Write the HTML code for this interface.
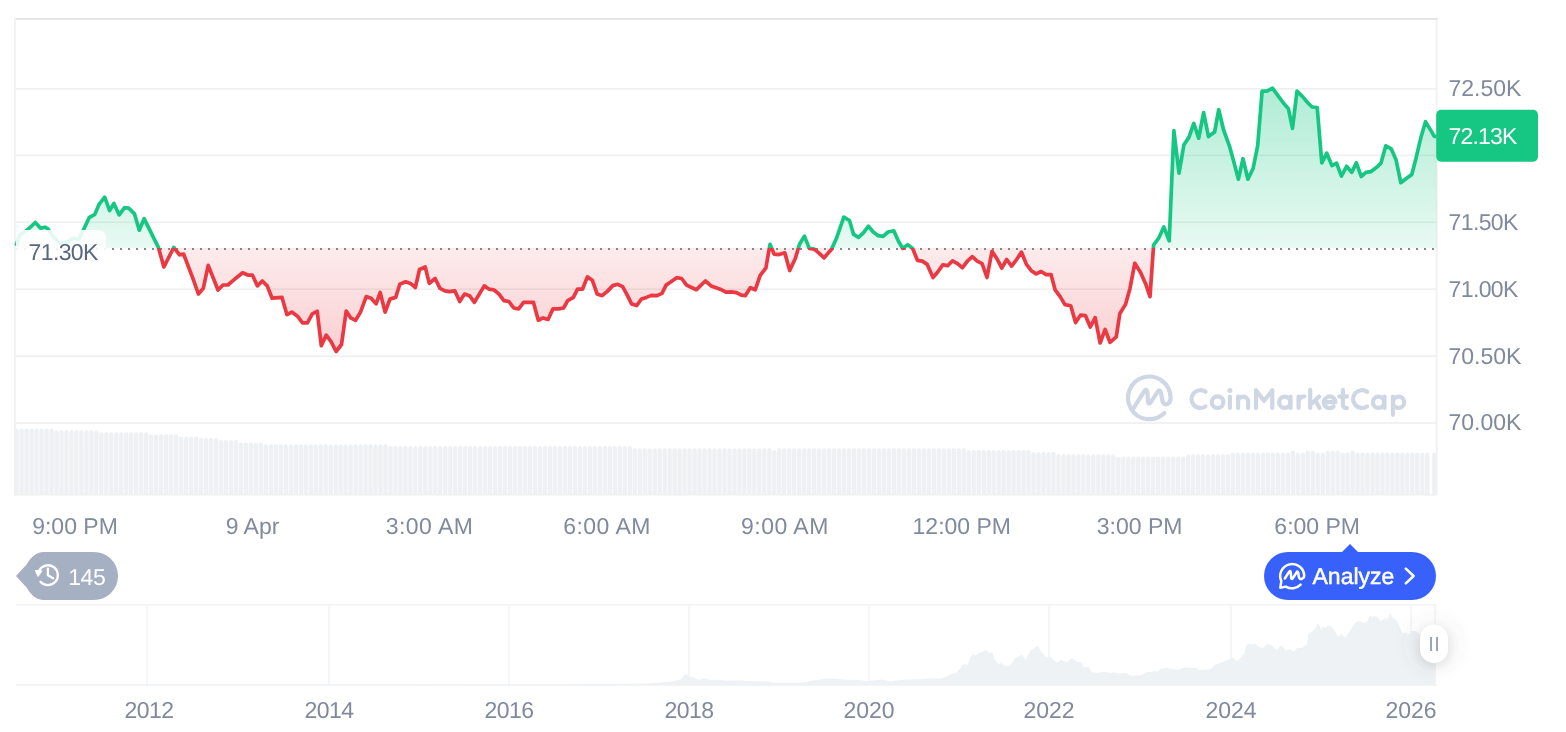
<!DOCTYPE html>
<html><head><meta charset="utf-8">
<style>
html,body{margin:0;padding:0;background:#fff;}
body{width:1566px;height:732px;overflow:hidden;position:relative;font-family:"Liberation Sans",sans-serif;}
svg{position:absolute;left:0;top:0;}
text{text-rendering:geometricPrecision;}
text{font-family:"Liberation Sans",sans-serif;}
</style></head><body>
<svg style="will-change:transform" width="1566" height="732" viewBox="0 0 1566 732">
<defs>
  <linearGradient id="gG" gradientUnits="userSpaceOnUse" x1="0" y1="88" x2="0" y2="248.0">
    <stop offset="0" stop-color="#16c784" stop-opacity="0.34"/>
    <stop offset="1" stop-color="#16c784" stop-opacity="0.1"/>
  </linearGradient>
  <linearGradient id="gR" gradientUnits="userSpaceOnUse" x1="0" y1="248.0" x2="0" y2="352">
    <stop offset="0" stop-color="#ea3943" stop-opacity="0.1"/>
    <stop offset="1" stop-color="#ea3943" stop-opacity="0.24"/>
  </linearGradient>
  <clipPath id="cTop"><rect x="0" y="0" width="1437" height="248.0"/></clipPath>
  <clipPath id="cBot"><rect x="0" y="248.0" width="1437" height="300"/></clipPath>
</defs>
<!-- grid & borders -->
<g fill="#efefef">
  <rect x="16" y="88" width="1420" height="1.6"/>
  <rect x="16" y="154.6" width="1420" height="1.6"/>
  <rect x="16" y="221.5" width="1420" height="1.6"/>
  <rect x="16" y="288.4" width="1420" height="1.6"/>
  <rect x="16" y="355.3" width="1420" height="1.6"/>
  <rect x="16" y="422.2" width="1420" height="1.6"/>
</g>
<!-- volume -->
<g fill="#eef0f3">
<path d="M14.40,494.5V430.6a2.2,2.2 0 0 1 4.4,0V494.5zM19.39,494.5V430.6a2.2,2.2 0 0 1 4.4,0V494.5zM24.37,494.5V430.6a2.2,2.2 0 0 1 4.4,0V494.5zM29.36,494.5V430.6a2.2,2.2 0 0 1 4.4,0V494.5zM34.34,494.5V430.6a2.2,2.2 0 0 1 4.4,0V494.5zM39.33,494.5V430.6a2.2,2.2 0 0 1 4.4,0V494.5zM44.31,494.5V430.6a2.2,2.2 0 0 1 4.4,0V494.5zM49.30,494.5V430.6a2.2,2.2 0 0 1 4.4,0V494.5zM54.28,494.5V432.5a2.2,2.2 0 0 1 4.4,0V494.5zM59.27,494.5V432.5a2.2,2.2 0 0 1 4.4,0V494.5zM64.25,494.5V432.5a2.2,2.2 0 0 1 4.4,0V494.5zM69.23,494.5V432.5a2.2,2.2 0 0 1 4.4,0V494.5zM74.22,494.5V432.5a2.2,2.2 0 0 1 4.4,0V494.5zM79.20,494.5V432.5a2.2,2.2 0 0 1 4.4,0V494.5zM84.19,494.5V432.5a2.2,2.2 0 0 1 4.4,0V494.5zM89.17,494.5V432.5a2.2,2.2 0 0 1 4.4,0V494.5zM94.16,494.5V432.5a2.2,2.2 0 0 1 4.4,0V494.5zM99.14,494.5V434.4a2.2,2.2 0 0 1 4.4,0V494.5zM104.13,494.5V434.4a2.2,2.2 0 0 1 4.4,0V494.5zM109.11,494.5V434.4a2.2,2.2 0 0 1 4.4,0V494.5zM114.10,494.5V434.4a2.2,2.2 0 0 1 4.4,0V494.5zM119.08,494.5V434.4a2.2,2.2 0 0 1 4.4,0V494.5zM124.07,494.5V434.4a2.2,2.2 0 0 1 4.4,0V494.5zM129.06,494.5V434.4a2.2,2.2 0 0 1 4.4,0V494.5zM134.04,494.5V434.4a2.2,2.2 0 0 1 4.4,0V494.5zM139.03,494.5V434.4a2.2,2.2 0 0 1 4.4,0V494.5zM144.01,494.5V434.4a2.2,2.2 0 0 1 4.4,0V494.5zM149.00,494.5V436.4a2.2,2.2 0 0 1 4.4,0V494.5zM153.98,494.5V436.4a2.2,2.2 0 0 1 4.4,0V494.5zM158.97,494.5V436.4a2.2,2.2 0 0 1 4.4,0V494.5zM163.95,494.5V436.4a2.2,2.2 0 0 1 4.4,0V494.5zM168.94,494.5V436.4a2.2,2.2 0 0 1 4.4,0V494.5zM173.92,494.5V436.4a2.2,2.2 0 0 1 4.4,0V494.5zM178.91,494.5V438.7a2.2,2.2 0 0 1 4.4,0V494.5zM183.89,494.5V438.7a2.2,2.2 0 0 1 4.4,0V494.5zM188.88,494.5V438.7a2.2,2.2 0 0 1 4.4,0V494.5zM193.86,494.5V438.7a2.2,2.2 0 0 1 4.4,0V494.5zM198.85,494.5V440.2a2.2,2.2 0 0 1 4.4,0V494.5zM203.83,494.5V440.2a2.2,2.2 0 0 1 4.4,0V494.5zM208.82,494.5V440.2a2.2,2.2 0 0 1 4.4,0V494.5zM213.80,494.5V440.2a2.2,2.2 0 0 1 4.4,0V494.5zM218.79,494.5V442.2a2.2,2.2 0 0 1 4.4,0V494.5zM223.77,494.5V442.2a2.2,2.2 0 0 1 4.4,0V494.5zM228.76,494.5V442.2a2.2,2.2 0 0 1 4.4,0V494.5zM233.74,494.5V442.2a2.2,2.2 0 0 1 4.4,0V494.5zM238.73,494.5V444.6a2.2,2.2 0 0 1 4.4,0V494.5zM243.71,494.5V444.6a2.2,2.2 0 0 1 4.4,0V494.5zM248.70,494.5V444.6a2.2,2.2 0 0 1 4.4,0V494.5zM253.68,494.5V444.6a2.2,2.2 0 0 1 4.4,0V494.5zM258.67,494.5V444.6a2.2,2.2 0 0 1 4.4,0V494.5zM263.65,494.5V446.4a2.2,2.2 0 0 1 4.4,0V494.5zM268.64,494.5V446.4a2.2,2.2 0 0 1 4.4,0V494.5zM273.62,494.5V446.4a2.2,2.2 0 0 1 4.4,0V494.5zM278.61,494.5V446.4a2.2,2.2 0 0 1 4.4,0V494.5zM283.59,494.5V446.4a2.2,2.2 0 0 1 4.4,0V494.5zM288.58,494.5V446.4a2.2,2.2 0 0 1 4.4,0V494.5zM293.56,494.5V446.4a2.2,2.2 0 0 1 4.4,0V494.5zM298.55,494.5V446.4a2.2,2.2 0 0 1 4.4,0V494.5zM303.53,494.5V446.4a2.2,2.2 0 0 1 4.4,0V494.5zM308.52,494.5V446.4a2.2,2.2 0 0 1 4.4,0V494.5zM313.50,494.5V446.4a2.2,2.2 0 0 1 4.4,0V494.5zM318.49,494.5V446.4a2.2,2.2 0 0 1 4.4,0V494.5zM323.47,494.5V446.4a2.2,2.2 0 0 1 4.4,0V494.5zM328.46,494.5V446.4a2.2,2.2 0 0 1 4.4,0V494.5zM333.44,494.5V446.4a2.2,2.2 0 0 1 4.4,0V494.5zM338.43,494.5V446.4a2.2,2.2 0 0 1 4.4,0V494.5zM343.41,494.5V446.4a2.2,2.2 0 0 1 4.4,0V494.5zM348.40,494.5V446.4a2.2,2.2 0 0 1 4.4,0V494.5zM353.38,494.5V446.4a2.2,2.2 0 0 1 4.4,0V494.5zM358.37,494.5V446.4a2.2,2.2 0 0 1 4.4,0V494.5zM363.35,494.5V446.4a2.2,2.2 0 0 1 4.4,0V494.5zM368.34,494.5V446.4a2.2,2.2 0 0 1 4.4,0V494.5zM373.32,494.5V446.4a2.2,2.2 0 0 1 4.4,0V494.5zM378.31,494.5V446.4a2.2,2.2 0 0 1 4.4,0V494.5zM383.29,494.5V446.4a2.2,2.2 0 0 1 4.4,0V494.5zM388.28,494.5V448.2a2.2,2.2 0 0 1 4.4,0V494.5zM393.26,494.5V448.2a2.2,2.2 0 0 1 4.4,0V494.5zM398.25,494.5V448.2a2.2,2.2 0 0 1 4.4,0V494.5zM403.23,494.5V448.2a2.2,2.2 0 0 1 4.4,0V494.5zM408.22,494.5V448.2a2.2,2.2 0 0 1 4.4,0V494.5zM413.20,494.5V448.2a2.2,2.2 0 0 1 4.4,0V494.5zM418.19,494.5V448.2a2.2,2.2 0 0 1 4.4,0V494.5zM423.17,494.5V448.2a2.2,2.2 0 0 1 4.4,0V494.5zM428.16,494.5V448.2a2.2,2.2 0 0 1 4.4,0V494.5zM433.14,494.5V448.2a2.2,2.2 0 0 1 4.4,0V494.5zM438.13,494.5V448.2a2.2,2.2 0 0 1 4.4,0V494.5zM443.11,494.5V448.2a2.2,2.2 0 0 1 4.4,0V494.5zM448.10,494.5V448.2a2.2,2.2 0 0 1 4.4,0V494.5zM453.08,494.5V448.2a2.2,2.2 0 0 1 4.4,0V494.5zM458.07,494.5V448.2a2.2,2.2 0 0 1 4.4,0V494.5zM463.05,494.5V448.2a2.2,2.2 0 0 1 4.4,0V494.5zM468.04,494.5V448.2a2.2,2.2 0 0 1 4.4,0V494.5zM473.02,494.5V448.2a2.2,2.2 0 0 1 4.4,0V494.5zM478.01,494.5V448.2a2.2,2.2 0 0 1 4.4,0V494.5zM482.99,494.5V448.2a2.2,2.2 0 0 1 4.4,0V494.5zM487.98,494.5V448.2a2.2,2.2 0 0 1 4.4,0V494.5zM492.96,494.5V448.2a2.2,2.2 0 0 1 4.4,0V494.5zM497.95,494.5V448.2a2.2,2.2 0 0 1 4.4,0V494.5zM502.93,494.5V448.2a2.2,2.2 0 0 1 4.4,0V494.5zM507.92,494.5V448.2a2.2,2.2 0 0 1 4.4,0V494.5zM512.90,494.5V448.2a2.2,2.2 0 0 1 4.4,0V494.5zM517.89,494.5V448.2a2.2,2.2 0 0 1 4.4,0V494.5zM522.87,494.5V448.2a2.2,2.2 0 0 1 4.4,0V494.5zM527.86,494.5V448.2a2.2,2.2 0 0 1 4.4,0V494.5zM532.84,494.5V448.2a2.2,2.2 0 0 1 4.4,0V494.5zM537.83,494.5V448.2a2.2,2.2 0 0 1 4.4,0V494.5zM542.81,494.5V448.2a2.2,2.2 0 0 1 4.4,0V494.5zM547.80,494.5V448.2a2.2,2.2 0 0 1 4.4,0V494.5zM552.78,494.5V448.2a2.2,2.2 0 0 1 4.4,0V494.5zM557.77,494.5V448.2a2.2,2.2 0 0 1 4.4,0V494.5zM562.75,494.5V448.2a2.2,2.2 0 0 1 4.4,0V494.5zM567.74,494.5V448.2a2.2,2.2 0 0 1 4.4,0V494.5zM572.72,494.5V448.2a2.2,2.2 0 0 1 4.4,0V494.5zM577.71,494.5V448.2a2.2,2.2 0 0 1 4.4,0V494.5zM582.69,494.5V448.2a2.2,2.2 0 0 1 4.4,0V494.5zM587.68,494.5V448.2a2.2,2.2 0 0 1 4.4,0V494.5zM592.66,494.5V448.2a2.2,2.2 0 0 1 4.4,0V494.5zM597.65,494.5V448.2a2.2,2.2 0 0 1 4.4,0V494.5zM602.63,494.5V448.2a2.2,2.2 0 0 1 4.4,0V494.5zM607.62,494.5V448.2a2.2,2.2 0 0 1 4.4,0V494.5zM612.60,494.5V448.2a2.2,2.2 0 0 1 4.4,0V494.5zM617.59,494.5V448.2a2.2,2.2 0 0 1 4.4,0V494.5zM622.57,494.5V448.2a2.2,2.2 0 0 1 4.4,0V494.5zM627.56,494.5V448.2a2.2,2.2 0 0 1 4.4,0V494.5zM632.54,494.5V450.4a2.2,2.2 0 0 1 4.4,0V494.5zM637.53,494.5V450.4a2.2,2.2 0 0 1 4.4,0V494.5zM642.51,494.5V450.4a2.2,2.2 0 0 1 4.4,0V494.5zM647.50,494.5V450.4a2.2,2.2 0 0 1 4.4,0V494.5zM652.48,494.5V450.4a2.2,2.2 0 0 1 4.4,0V494.5zM657.47,494.5V450.4a2.2,2.2 0 0 1 4.4,0V494.5zM662.45,494.5V450.4a2.2,2.2 0 0 1 4.4,0V494.5zM667.44,494.5V450.4a2.2,2.2 0 0 1 4.4,0V494.5zM672.42,494.5V450.4a2.2,2.2 0 0 1 4.4,0V494.5zM677.41,494.5V450.4a2.2,2.2 0 0 1 4.4,0V494.5zM682.39,494.5V450.4a2.2,2.2 0 0 1 4.4,0V494.5zM687.38,494.5V450.4a2.2,2.2 0 0 1 4.4,0V494.5zM692.36,494.5V450.4a2.2,2.2 0 0 1 4.4,0V494.5zM697.35,494.5V450.4a2.2,2.2 0 0 1 4.4,0V494.5zM702.33,494.5V450.4a2.2,2.2 0 0 1 4.4,0V494.5zM707.32,494.5V450.4a2.2,2.2 0 0 1 4.4,0V494.5zM712.30,494.5V450.4a2.2,2.2 0 0 1 4.4,0V494.5zM717.29,494.5V450.4a2.2,2.2 0 0 1 4.4,0V494.5zM722.27,494.5V450.4a2.2,2.2 0 0 1 4.4,0V494.5zM727.26,494.5V450.4a2.2,2.2 0 0 1 4.4,0V494.5zM732.24,494.5V450.4a2.2,2.2 0 0 1 4.4,0V494.5zM737.23,494.5V450.4a2.2,2.2 0 0 1 4.4,0V494.5zM742.21,494.5V450.4a2.2,2.2 0 0 1 4.4,0V494.5zM747.20,494.5V450.4a2.2,2.2 0 0 1 4.4,0V494.5zM752.18,494.5V450.4a2.2,2.2 0 0 1 4.4,0V494.5zM757.17,494.5V450.4a2.2,2.2 0 0 1 4.4,0V494.5zM762.15,494.5V450.4a2.2,2.2 0 0 1 4.4,0V494.5zM767.14,494.5V450.4a2.2,2.2 0 0 1 4.4,0V494.5zM772.12,494.5V452.2a2.2,2.2 0 0 1 4.4,0V494.5zM777.11,494.5V450.4a2.2,2.2 0 0 1 4.4,0V494.5zM782.09,494.5V450.4a2.2,2.2 0 0 1 4.4,0V494.5zM787.08,494.5V450.4a2.2,2.2 0 0 1 4.4,0V494.5zM792.06,494.5V450.4a2.2,2.2 0 0 1 4.4,0V494.5zM797.05,494.5V450.4a2.2,2.2 0 0 1 4.4,0V494.5zM802.03,494.5V450.4a2.2,2.2 0 0 1 4.4,0V494.5zM807.02,494.5V450.4a2.2,2.2 0 0 1 4.4,0V494.5zM812.00,494.5V450.4a2.2,2.2 0 0 1 4.4,0V494.5zM816.99,494.5V450.4a2.2,2.2 0 0 1 4.4,0V494.5zM821.97,494.5V450.4a2.2,2.2 0 0 1 4.4,0V494.5zM826.96,494.5V450.4a2.2,2.2 0 0 1 4.4,0V494.5zM831.94,494.5V450.4a2.2,2.2 0 0 1 4.4,0V494.5zM836.93,494.5V450.4a2.2,2.2 0 0 1 4.4,0V494.5zM841.91,494.5V450.4a2.2,2.2 0 0 1 4.4,0V494.5zM846.90,494.5V450.4a2.2,2.2 0 0 1 4.4,0V494.5zM851.88,494.5V450.4a2.2,2.2 0 0 1 4.4,0V494.5zM856.87,494.5V450.4a2.2,2.2 0 0 1 4.4,0V494.5zM861.85,494.5V450.4a2.2,2.2 0 0 1 4.4,0V494.5zM866.84,494.5V450.4a2.2,2.2 0 0 1 4.4,0V494.5zM871.82,494.5V450.4a2.2,2.2 0 0 1 4.4,0V494.5zM876.81,494.5V450.4a2.2,2.2 0 0 1 4.4,0V494.5zM881.79,494.5V450.4a2.2,2.2 0 0 1 4.4,0V494.5zM886.78,494.5V450.4a2.2,2.2 0 0 1 4.4,0V494.5zM891.76,494.5V450.4a2.2,2.2 0 0 1 4.4,0V494.5zM896.75,494.5V450.4a2.2,2.2 0 0 1 4.4,0V494.5zM901.73,494.5V450.4a2.2,2.2 0 0 1 4.4,0V494.5zM906.72,494.5V450.4a2.2,2.2 0 0 1 4.4,0V494.5zM911.70,494.5V450.4a2.2,2.2 0 0 1 4.4,0V494.5zM916.69,494.5V450.4a2.2,2.2 0 0 1 4.4,0V494.5zM921.67,494.5V450.4a2.2,2.2 0 0 1 4.4,0V494.5zM926.66,494.5V450.4a2.2,2.2 0 0 1 4.4,0V494.5zM931.64,494.5V450.4a2.2,2.2 0 0 1 4.4,0V494.5zM936.63,494.5V450.4a2.2,2.2 0 0 1 4.4,0V494.5zM941.61,494.5V450.4a2.2,2.2 0 0 1 4.4,0V494.5zM946.60,494.5V450.4a2.2,2.2 0 0 1 4.4,0V494.5zM951.58,494.5V450.4a2.2,2.2 0 0 1 4.4,0V494.5zM956.57,494.5V450.4a2.2,2.2 0 0 1 4.4,0V494.5zM961.55,494.5V450.4a2.2,2.2 0 0 1 4.4,0V494.5zM966.54,494.5V452.2a2.2,2.2 0 0 1 4.4,0V494.5zM971.52,494.5V452.2a2.2,2.2 0 0 1 4.4,0V494.5zM976.51,494.5V452.2a2.2,2.2 0 0 1 4.4,0V494.5zM981.49,494.5V452.2a2.2,2.2 0 0 1 4.4,0V494.5zM986.48,494.5V452.2a2.2,2.2 0 0 1 4.4,0V494.5zM991.46,494.5V452.2a2.2,2.2 0 0 1 4.4,0V494.5zM996.45,494.5V452.2a2.2,2.2 0 0 1 4.4,0V494.5zM1001.43,494.5V452.2a2.2,2.2 0 0 1 4.4,0V494.5zM1006.42,494.5V452.2a2.2,2.2 0 0 1 4.4,0V494.5zM1011.40,494.5V452.2a2.2,2.2 0 0 1 4.4,0V494.5zM1016.39,494.5V452.2a2.2,2.2 0 0 1 4.4,0V494.5zM1021.37,494.5V452.2a2.2,2.2 0 0 1 4.4,0V494.5zM1026.36,494.5V452.2a2.2,2.2 0 0 1 4.4,0V494.5zM1031.34,494.5V454.2a2.2,2.2 0 0 1 4.4,0V494.5zM1036.33,494.5V454.2a2.2,2.2 0 0 1 4.4,0V494.5zM1041.31,494.5V454.2a2.2,2.2 0 0 1 4.4,0V494.5zM1046.30,494.5V454.2a2.2,2.2 0 0 1 4.4,0V494.5zM1051.28,494.5V454.2a2.2,2.2 0 0 1 4.4,0V494.5zM1056.27,494.5V456.5a2.2,2.2 0 0 1 4.4,0V494.5zM1061.25,494.5V456.5a2.2,2.2 0 0 1 4.4,0V494.5zM1066.24,494.5V456.5a2.2,2.2 0 0 1 4.4,0V494.5zM1071.22,494.5V456.5a2.2,2.2 0 0 1 4.4,0V494.5zM1076.21,494.5V456.5a2.2,2.2 0 0 1 4.4,0V494.5zM1081.19,494.5V456.5a2.2,2.2 0 0 1 4.4,0V494.5zM1086.18,494.5V456.5a2.2,2.2 0 0 1 4.4,0V494.5zM1091.16,494.5V456.5a2.2,2.2 0 0 1 4.4,0V494.5zM1096.15,494.5V456.5a2.2,2.2 0 0 1 4.4,0V494.5zM1101.13,494.5V456.5a2.2,2.2 0 0 1 4.4,0V494.5zM1106.12,494.5V456.5a2.2,2.2 0 0 1 4.4,0V494.5zM1111.10,494.5V456.5a2.2,2.2 0 0 1 4.4,0V494.5zM1116.09,494.5V458.7a2.2,2.2 0 0 1 4.4,0V494.5zM1121.07,494.5V458.7a2.2,2.2 0 0 1 4.4,0V494.5zM1126.06,494.5V458.7a2.2,2.2 0 0 1 4.4,0V494.5zM1131.04,494.5V458.7a2.2,2.2 0 0 1 4.4,0V494.5zM1136.03,494.5V458.7a2.2,2.2 0 0 1 4.4,0V494.5zM1141.01,494.5V458.7a2.2,2.2 0 0 1 4.4,0V494.5zM1145.99,494.5V458.7a2.2,2.2 0 0 1 4.4,0V494.5zM1150.98,494.5V458.7a2.2,2.2 0 0 1 4.4,0V494.5zM1155.96,494.5V458.7a2.2,2.2 0 0 1 4.4,0V494.5zM1160.95,494.5V458.7a2.2,2.2 0 0 1 4.4,0V494.5zM1165.93,494.5V458.7a2.2,2.2 0 0 1 4.4,0V494.5zM1170.92,494.5V458.7a2.2,2.2 0 0 1 4.4,0V494.5zM1175.90,494.5V458.7a2.2,2.2 0 0 1 4.4,0V494.5zM1180.89,494.5V458.7a2.2,2.2 0 0 1 4.4,0V494.5zM1185.87,494.5V456.5a2.2,2.2 0 0 1 4.4,0V494.5zM1190.86,494.5V456.5a2.2,2.2 0 0 1 4.4,0V494.5zM1195.84,494.5V456.5a2.2,2.2 0 0 1 4.4,0V494.5zM1200.83,494.5V456.5a2.2,2.2 0 0 1 4.4,0V494.5zM1205.81,494.5V456.5a2.2,2.2 0 0 1 4.4,0V494.5zM1210.80,494.5V456.5a2.2,2.2 0 0 1 4.4,0V494.5zM1215.78,494.5V456.5a2.2,2.2 0 0 1 4.4,0V494.5zM1220.77,494.5V456.5a2.2,2.2 0 0 1 4.4,0V494.5zM1225.75,494.5V456.5a2.2,2.2 0 0 1 4.4,0V494.5zM1230.74,494.5V454.7a2.2,2.2 0 0 1 4.4,0V494.5zM1235.72,494.5V454.7a2.2,2.2 0 0 1 4.4,0V494.5zM1240.71,494.5V454.7a2.2,2.2 0 0 1 4.4,0V494.5zM1245.69,494.5V454.7a2.2,2.2 0 0 1 4.4,0V494.5zM1250.68,494.5V454.7a2.2,2.2 0 0 1 4.4,0V494.5zM1255.66,494.5V454.7a2.2,2.2 0 0 1 4.4,0V494.5zM1260.65,494.5V454.7a2.2,2.2 0 0 1 4.4,0V494.5zM1265.63,494.5V454.7a2.2,2.2 0 0 1 4.4,0V494.5zM1270.62,494.5V454.7a2.2,2.2 0 0 1 4.4,0V494.5zM1275.60,494.5V454.7a2.2,2.2 0 0 1 4.4,0V494.5zM1280.59,494.5V454.7a2.2,2.2 0 0 1 4.4,0V494.5zM1285.57,494.5V454.7a2.2,2.2 0 0 1 4.4,0V494.5zM1290.56,494.5V452.6a2.2,2.2 0 0 1 4.4,0V494.5zM1295.54,494.5V454.7a2.2,2.2 0 0 1 4.4,0V494.5zM1300.53,494.5V454.7a2.2,2.2 0 0 1 4.4,0V494.5zM1305.51,494.5V452.6a2.2,2.2 0 0 1 4.4,0V494.5zM1310.50,494.5V452.6a2.2,2.2 0 0 1 4.4,0V494.5zM1315.48,494.5V454.7a2.2,2.2 0 0 1 4.4,0V494.5zM1320.47,494.5V454.7a2.2,2.2 0 0 1 4.4,0V494.5zM1325.45,494.5V452.6a2.2,2.2 0 0 1 4.4,0V494.5zM1330.44,494.5V452.6a2.2,2.2 0 0 1 4.4,0V494.5zM1335.42,494.5V452.6a2.2,2.2 0 0 1 4.4,0V494.5zM1340.41,494.5V454.7a2.2,2.2 0 0 1 4.4,0V494.5zM1345.39,494.5V454.7a2.2,2.2 0 0 1 4.4,0V494.5zM1350.38,494.5V452.6a2.2,2.2 0 0 1 4.4,0V494.5zM1355.36,494.5V454.7a2.2,2.2 0 0 1 4.4,0V494.5zM1360.35,494.5V454.7a2.2,2.2 0 0 1 4.4,0V494.5zM1365.33,494.5V454.7a2.2,2.2 0 0 1 4.4,0V494.5zM1370.32,494.5V454.7a2.2,2.2 0 0 1 4.4,0V494.5zM1375.30,494.5V454.7a2.2,2.2 0 0 1 4.4,0V494.5zM1380.29,494.5V454.7a2.2,2.2 0 0 1 4.4,0V494.5zM1385.27,494.5V454.7a2.2,2.2 0 0 1 4.4,0V494.5zM1390.26,494.5V454.7a2.2,2.2 0 0 1 4.4,0V494.5zM1395.24,494.5V454.7a2.2,2.2 0 0 1 4.4,0V494.5zM1400.23,494.5V454.7a2.2,2.2 0 0 1 4.4,0V494.5zM1405.21,494.5V454.7a2.2,2.2 0 0 1 4.4,0V494.5zM1410.20,494.5V454.7a2.2,2.2 0 0 1 4.4,0V494.5zM1415.18,494.5V454.7a2.2,2.2 0 0 1 4.4,0V494.5zM1420.17,494.5V454.7a2.2,2.2 0 0 1 4.4,0V494.5zM1425.15,494.5V454.7a2.2,2.2 0 0 1 4.4,0V494.5zM1432.2,494.5V454.7a2.1,2.1 0 0 1 4.2,0V494.5z"/>
</g>
<rect x="14" y="494" width="1423" height="1.6" fill="#f0f0f0"/>
<rect x="14" y="18" width="1.8" height="477" fill="#f1f1f1"/>
<rect x="1435.8" y="18" width="1.8" height="477" fill="#f1f1f1"/>
<rect x="15.8" y="18" width="1421.8" height="1.8" fill="#e4e4e4"/>

<!-- fills -->
<path d="M16.2,248.0 L16.2,245.9 L19.6,234.9 L22.4,233.5 L27.2,230.1 L35.3,222.5 L40.6,228.2 L44.9,227.2 L48.2,229.2 L53,236.3 L59.7,243.5 L67.4,242 L73.1,238.2 L78.8,239.2 L83.8,229.2 L89.1,217.7 L94.8,214.4 L99.1,204.3 L104.7,197.2 L109.6,210.6 L113.9,203.4 L119.2,214.9 L124.5,207.7 L128.8,208.2 L134.5,213.9 L139.3,230.2 L144.1,218.7 L158.4,247.4 L163.9,267 L173.8,247.4 L179.5,254.8 L183.6,254 L192.6,277.7 L198.4,294 L203.3,288.4 L208.2,265.4 L218,290 L223,285 L227.9,285 L233.6,280.2 L242.6,272.8 L248.4,275.2 L252.5,275.2 L257.4,285.9 L262.3,281 L267.2,285.9 L272.1,298.2 L282,297.4 L286.9,314.6 L291.8,312.1 L297.5,316.2 L302.5,322.8 L307.4,322.8 L312.3,313.8 L317.2,311.3 L321.3,345.7 L326.2,335.1 L331.1,341.6 L336.1,351.5 L341.5,344.5 L346.2,311 L350.7,317.9 L355.6,320.3 L360.5,312.1 L366.2,296.6 L371.1,298.2 L376.1,303.9 L380.2,292.5 L385.1,312.1 L390,299 L395.7,297.4 L399.8,284.3 L405.6,281.8 L410.5,283.4 L415.4,287.5 L419.5,269.5 L425.2,267 L429.3,283.4 L435.1,278.5 L440,288.4 L444.9,290.8 L449.8,291.6 L454.8,290.8 L459.7,301.5 L464.6,294.1 L469.5,295.7 L474.4,302.3 L484.3,285.9 L489.2,289.2 L494.1,290 L499,294.1 L503.9,300.7 L508.9,301.5 L513.8,308 L518.7,308.9 L523.6,302.3 L533.4,302.3 L538.3,320.3 L543.1,317.9 L548,319.5 L553,308.9 L558.7,308.9 L563.6,308 L567.7,300.7 L573.4,297.4 L577.5,289.2 L582.5,289.2 L587.4,276.9 L592.3,280.2 L597.2,294.1 L602.1,295.7 L607,291.6 L612.8,285.6 L617.7,284.3 L622.6,286.7 L626.7,294.1 L631.6,303.9 L636.6,305.6 L641.5,299 L646.4,297.4 L651.3,295.4 L657,295.7 L662,293.3 L666.1,285.1 L671,281.8 L676.7,277.7 L681.6,278.5 L686.6,285.1 L691.5,287.5 L696.4,289.7 L705.4,281 L711.1,285.9 L720.2,289.2 L725.9,292.1 L731.5,291.8 L736.4,292.6 L741.3,295.1 L745.4,295.6 L750.3,287.7 L755.2,289.8 L760.2,275.4 L765.9,268 L770,244.3 L774.1,254.1 L779,254.6 L784.8,252.8 L789.7,270.5 L795.4,258.2 L799.5,244.3 L804.4,236.1 L809.3,248.4 L814.3,249.2 L819.2,253.3 L824.1,257.9 L831.5,249.2 L836.4,238.5 L843.8,217.2 L849.5,220.5 L853.6,234.4 L858.5,237.4 L863.4,232.8 L868.4,226.2 L873.3,232 L878.2,235.7 L883.1,236.4 L888,232 L893.8,230.8 L898.7,241.8 L902.8,248.4 L907.7,244.6 L912.6,248.4 L917.4,260.3 L922.3,261.1 L927.2,264.4 L933,277.5 L937.9,271.8 L942.8,264.9 L947.7,265.7 L952.6,260.8 L957.5,263.6 L962.5,267.7 L967.4,261.1 L972.3,256.7 L977.2,261.1 L982.1,263.6 L987,277.5 L992,251.3 L996.9,258.7 L1001.8,268.2 L1006.7,259.5 L1011.6,266.1 L1016.6,259.5 L1021.5,252.1 L1026.4,264.4 L1031.3,270.7 L1036.2,273.9 L1041.1,271.5 L1046.1,274.6 L1051,274.6 L1055.1,289.8 L1060,296.4 L1064.9,304.6 L1070.7,305.7 L1075.6,322.6 L1080.5,315.2 L1085.4,315.6 L1090.3,327 L1095.2,317.7 L1100.1,343 L1105.1,329.5 L1110,342.3 L1116.3,336.9 L1119.8,313.8 L1125.5,304.4 L1130,288.4 L1134.8,263.2 L1140.6,272.4 L1146,284.8 L1150,296.7 L1153.6,245 L1158.7,238.2 L1163.8,226.9 L1169.2,240.8 L1173.9,130.7 L1179,173.1 L1183.9,144.8 L1188.9,137.4 L1193.8,123.4 L1198.7,138.2 L1203.6,112.5 L1208.5,136.6 L1214.6,132.1 L1218.7,109.5 L1223.6,130 L1229.3,145.6 L1233.4,160.3 L1238.4,179.2 L1243,158.7 L1247.9,179.2 L1253.1,168.5 L1257.7,145.6 L1262.1,91.1 L1267,91.1 L1272.5,88.2 L1278.5,96.4 L1283.4,103 L1288.4,108.7 L1292.5,128.4 L1297,91.1 L1302.3,96.4 L1308,103 L1312.1,107 L1317.2,107.5 L1321.8,162.8 L1326.8,153.2 L1331.9,165.6 L1336.6,163.1 L1341.4,176.2 L1346.6,166.3 L1351.7,172.4 L1356.4,162.8 L1361.2,176.5 L1366,172.4 L1370.8,171.7 L1376.3,167.6 L1381,163.1 L1385.8,145.8 L1391.3,148.9 L1396.1,160.1 L1400.8,182.7 L1406.3,178.6 L1411.8,174.5 L1415.9,158.7 L1420.7,138.3 L1425.5,121.7 L1430.2,129.4 L1434.2,136.2 L1436.5,136.6 L1436.5,248.0 Z" fill="url(#gG)" clip-path="url(#cTop)"/>
<path d="M16.2,248.0 L16.2,245.9 L19.6,234.9 L22.4,233.5 L27.2,230.1 L35.3,222.5 L40.6,228.2 L44.9,227.2 L48.2,229.2 L53,236.3 L59.7,243.5 L67.4,242 L73.1,238.2 L78.8,239.2 L83.8,229.2 L89.1,217.7 L94.8,214.4 L99.1,204.3 L104.7,197.2 L109.6,210.6 L113.9,203.4 L119.2,214.9 L124.5,207.7 L128.8,208.2 L134.5,213.9 L139.3,230.2 L144.1,218.7 L158.4,247.4 L163.9,267 L173.8,247.4 L179.5,254.8 L183.6,254 L192.6,277.7 L198.4,294 L203.3,288.4 L208.2,265.4 L218,290 L223,285 L227.9,285 L233.6,280.2 L242.6,272.8 L248.4,275.2 L252.5,275.2 L257.4,285.9 L262.3,281 L267.2,285.9 L272.1,298.2 L282,297.4 L286.9,314.6 L291.8,312.1 L297.5,316.2 L302.5,322.8 L307.4,322.8 L312.3,313.8 L317.2,311.3 L321.3,345.7 L326.2,335.1 L331.1,341.6 L336.1,351.5 L341.5,344.5 L346.2,311 L350.7,317.9 L355.6,320.3 L360.5,312.1 L366.2,296.6 L371.1,298.2 L376.1,303.9 L380.2,292.5 L385.1,312.1 L390,299 L395.7,297.4 L399.8,284.3 L405.6,281.8 L410.5,283.4 L415.4,287.5 L419.5,269.5 L425.2,267 L429.3,283.4 L435.1,278.5 L440,288.4 L444.9,290.8 L449.8,291.6 L454.8,290.8 L459.7,301.5 L464.6,294.1 L469.5,295.7 L474.4,302.3 L484.3,285.9 L489.2,289.2 L494.1,290 L499,294.1 L503.9,300.7 L508.9,301.5 L513.8,308 L518.7,308.9 L523.6,302.3 L533.4,302.3 L538.3,320.3 L543.1,317.9 L548,319.5 L553,308.9 L558.7,308.9 L563.6,308 L567.7,300.7 L573.4,297.4 L577.5,289.2 L582.5,289.2 L587.4,276.9 L592.3,280.2 L597.2,294.1 L602.1,295.7 L607,291.6 L612.8,285.6 L617.7,284.3 L622.6,286.7 L626.7,294.1 L631.6,303.9 L636.6,305.6 L641.5,299 L646.4,297.4 L651.3,295.4 L657,295.7 L662,293.3 L666.1,285.1 L671,281.8 L676.7,277.7 L681.6,278.5 L686.6,285.1 L691.5,287.5 L696.4,289.7 L705.4,281 L711.1,285.9 L720.2,289.2 L725.9,292.1 L731.5,291.8 L736.4,292.6 L741.3,295.1 L745.4,295.6 L750.3,287.7 L755.2,289.8 L760.2,275.4 L765.9,268 L770,244.3 L774.1,254.1 L779,254.6 L784.8,252.8 L789.7,270.5 L795.4,258.2 L799.5,244.3 L804.4,236.1 L809.3,248.4 L814.3,249.2 L819.2,253.3 L824.1,257.9 L831.5,249.2 L836.4,238.5 L843.8,217.2 L849.5,220.5 L853.6,234.4 L858.5,237.4 L863.4,232.8 L868.4,226.2 L873.3,232 L878.2,235.7 L883.1,236.4 L888,232 L893.8,230.8 L898.7,241.8 L902.8,248.4 L907.7,244.6 L912.6,248.4 L917.4,260.3 L922.3,261.1 L927.2,264.4 L933,277.5 L937.9,271.8 L942.8,264.9 L947.7,265.7 L952.6,260.8 L957.5,263.6 L962.5,267.7 L967.4,261.1 L972.3,256.7 L977.2,261.1 L982.1,263.6 L987,277.5 L992,251.3 L996.9,258.7 L1001.8,268.2 L1006.7,259.5 L1011.6,266.1 L1016.6,259.5 L1021.5,252.1 L1026.4,264.4 L1031.3,270.7 L1036.2,273.9 L1041.1,271.5 L1046.1,274.6 L1051,274.6 L1055.1,289.8 L1060,296.4 L1064.9,304.6 L1070.7,305.7 L1075.6,322.6 L1080.5,315.2 L1085.4,315.6 L1090.3,327 L1095.2,317.7 L1100.1,343 L1105.1,329.5 L1110,342.3 L1116.3,336.9 L1119.8,313.8 L1125.5,304.4 L1130,288.4 L1134.8,263.2 L1140.6,272.4 L1146,284.8 L1150,296.7 L1153.6,245 L1158.7,238.2 L1163.8,226.9 L1169.2,240.8 L1173.9,130.7 L1179,173.1 L1183.9,144.8 L1188.9,137.4 L1193.8,123.4 L1198.7,138.2 L1203.6,112.5 L1208.5,136.6 L1214.6,132.1 L1218.7,109.5 L1223.6,130 L1229.3,145.6 L1233.4,160.3 L1238.4,179.2 L1243,158.7 L1247.9,179.2 L1253.1,168.5 L1257.7,145.6 L1262.1,91.1 L1267,91.1 L1272.5,88.2 L1278.5,96.4 L1283.4,103 L1288.4,108.7 L1292.5,128.4 L1297,91.1 L1302.3,96.4 L1308,103 L1312.1,107 L1317.2,107.5 L1321.8,162.8 L1326.8,153.2 L1331.9,165.6 L1336.6,163.1 L1341.4,176.2 L1346.6,166.3 L1351.7,172.4 L1356.4,162.8 L1361.2,176.5 L1366,172.4 L1370.8,171.7 L1376.3,167.6 L1381,163.1 L1385.8,145.8 L1391.3,148.9 L1396.1,160.1 L1400.8,182.7 L1406.3,178.6 L1411.8,174.5 L1415.9,158.7 L1420.7,138.3 L1425.5,121.7 L1430.2,129.4 L1434.2,136.2 L1436.5,136.6 L1436.5,248.0 Z" fill="url(#gR)" clip-path="url(#cBot)"/>
<!-- dotted baseline -->
<path d="M16,248h2v2h-2z M24,248h2v2h-2z M32,248h2v2h-2z M40,248h2v2h-2z M48,248h2v2h-2z M56,248h2v2h-2z M64,248h2v2h-2z M72,248h2v2h-2z M80,248h2v2h-2z M88,248h2v2h-2z M96,248h2v2h-2z M104,248h2v2h-2z M112,248h2v2h-2z M120,248h2v2h-2z M128,248h2v2h-2z M136,248h2v2h-2z M144,248h2v2h-2z M152,248h2v2h-2z M160,248h2v2h-2z M168,248h2v2h-2z M176,248h2v2h-2z M184,248h2v2h-2z M192,248h2v2h-2z M200,248h2v2h-2z M208,248h2v2h-2z M216,248h2v2h-2z M224,248h2v2h-2z M232,248h2v2h-2z M240,248h2v2h-2z M248,248h2v2h-2z M256,248h2v2h-2z M264,248h2v2h-2z M272,248h2v2h-2z M280,248h2v2h-2z M288,248h2v2h-2z M296,248h2v2h-2z M304,248h2v2h-2z M312,248h2v2h-2z M320,248h2v2h-2z M328,248h2v2h-2z M336,248h2v2h-2z M344,248h2v2h-2z M352,248h2v2h-2z M360,248h2v2h-2z M368,248h2v2h-2z M376,248h2v2h-2z M384,248h2v2h-2z M392,248h2v2h-2z M400,248h2v2h-2z M408,248h2v2h-2z M416,248h2v2h-2z M424,248h2v2h-2z M432,248h2v2h-2z M440,248h2v2h-2z M448,248h2v2h-2z M456,248h2v2h-2z M464,248h2v2h-2z M472,248h2v2h-2z M480,248h2v2h-2z M488,248h2v2h-2z M496,248h2v2h-2z M504,248h2v2h-2z M512,248h2v2h-2z M520,248h2v2h-2z M528,248h2v2h-2z M536,248h2v2h-2z M544,248h2v2h-2z M552,248h2v2h-2z M560,248h2v2h-2z M568,248h2v2h-2z M576,248h2v2h-2z M584,248h2v2h-2z M592,248h2v2h-2z M600,248h2v2h-2z M608,248h2v2h-2z M616,248h2v2h-2z M624,248h2v2h-2z M632,248h2v2h-2z M640,248h2v2h-2z M648,248h2v2h-2z M656,248h2v2h-2z M664,248h2v2h-2z M672,248h2v2h-2z M680,248h2v2h-2z M688,248h2v2h-2z M696,248h2v2h-2z M704,248h2v2h-2z M712,248h2v2h-2z M720,248h2v2h-2z M728,248h2v2h-2z M736,248h2v2h-2z M744,248h2v2h-2z M752,248h2v2h-2z M760,248h2v2h-2z M768,248h2v2h-2z M776,248h2v2h-2z M784,248h2v2h-2z M792,248h2v2h-2z M800,248h2v2h-2z M808,248h2v2h-2z M816,248h2v2h-2z M824,248h2v2h-2z M832,248h2v2h-2z M840,248h2v2h-2z M848,248h2v2h-2z M856,248h2v2h-2z M864,248h2v2h-2z M872,248h2v2h-2z M880,248h2v2h-2z M888,248h2v2h-2z M896,248h2v2h-2z M904,248h2v2h-2z M912,248h2v2h-2z M920,248h2v2h-2z M928,248h2v2h-2z M936,248h2v2h-2z M944,248h2v2h-2z M952,248h2v2h-2z M960,248h2v2h-2z M968,248h2v2h-2z M976,248h2v2h-2z M984,248h2v2h-2z M992,248h2v2h-2z M1000,248h2v2h-2z M1008,248h2v2h-2z M1016,248h2v2h-2z M1024,248h2v2h-2z M1032,248h2v2h-2z M1040,248h2v2h-2z M1048,248h2v2h-2z M1056,248h2v2h-2z M1064,248h2v2h-2z M1072,248h2v2h-2z M1080,248h2v2h-2z M1088,248h2v2h-2z M1096,248h2v2h-2z M1104,248h2v2h-2z M1112,248h2v2h-2z M1120,248h2v2h-2z M1128,248h2v2h-2z M1136,248h2v2h-2z M1144,248h2v2h-2z M1152,248h2v2h-2z M1160,248h2v2h-2z M1168,248h2v2h-2z M1176,248h2v2h-2z M1184,248h2v2h-2z M1192,248h2v2h-2z M1200,248h2v2h-2z M1208,248h2v2h-2z M1216,248h2v2h-2z M1224,248h2v2h-2z M1232,248h2v2h-2z M1240,248h2v2h-2z M1248,248h2v2h-2z M1256,248h2v2h-2z M1264,248h2v2h-2z M1272,248h2v2h-2z M1280,248h2v2h-2z M1288,248h2v2h-2z M1296,248h2v2h-2z M1304,248h2v2h-2z M1312,248h2v2h-2z M1320,248h2v2h-2z M1328,248h2v2h-2z M1336,248h2v2h-2z M1344,248h2v2h-2z M1352,248h2v2h-2z M1360,248h2v2h-2z M1368,248h2v2h-2z M1376,248h2v2h-2z M1384,248h2v2h-2z M1392,248h2v2h-2z M1400,248h2v2h-2z M1408,248h2v2h-2z M1416,248h2v2h-2z M1424,248h2v2h-2z M1432,248h2v2h-2z" fill="#878787"/>
<!-- line -->
<polyline points="16.2,245.9 19.6,234.9 22.4,233.5 27.2,230.1 35.3,222.5 40.6,228.2 44.9,227.2 48.2,229.2 53,236.3 59.7,243.5 67.4,242 73.1,238.2 78.8,239.2 83.8,229.2 89.1,217.7 94.8,214.4 99.1,204.3 104.7,197.2 109.6,210.6 113.9,203.4 119.2,214.9 124.5,207.7 128.8,208.2 134.5,213.9 139.3,230.2 144.1,218.7 158.4,247.4 163.9,267 173.8,247.4 179.5,254.8 183.6,254 192.6,277.7 198.4,294 203.3,288.4 208.2,265.4 218,290 223,285 227.9,285 233.6,280.2 242.6,272.8 248.4,275.2 252.5,275.2 257.4,285.9 262.3,281 267.2,285.9 272.1,298.2 282,297.4 286.9,314.6 291.8,312.1 297.5,316.2 302.5,322.8 307.4,322.8 312.3,313.8 317.2,311.3 321.3,345.7 326.2,335.1 331.1,341.6 336.1,351.5 341.5,344.5 346.2,311 350.7,317.9 355.6,320.3 360.5,312.1 366.2,296.6 371.1,298.2 376.1,303.9 380.2,292.5 385.1,312.1 390,299 395.7,297.4 399.8,284.3 405.6,281.8 410.5,283.4 415.4,287.5 419.5,269.5 425.2,267 429.3,283.4 435.1,278.5 440,288.4 444.9,290.8 449.8,291.6 454.8,290.8 459.7,301.5 464.6,294.1 469.5,295.7 474.4,302.3 484.3,285.9 489.2,289.2 494.1,290 499,294.1 503.9,300.7 508.9,301.5 513.8,308 518.7,308.9 523.6,302.3 533.4,302.3 538.3,320.3 543.1,317.9 548,319.5 553,308.9 558.7,308.9 563.6,308 567.7,300.7 573.4,297.4 577.5,289.2 582.5,289.2 587.4,276.9 592.3,280.2 597.2,294.1 602.1,295.7 607,291.6 612.8,285.6 617.7,284.3 622.6,286.7 626.7,294.1 631.6,303.9 636.6,305.6 641.5,299 646.4,297.4 651.3,295.4 657,295.7 662,293.3 666.1,285.1 671,281.8 676.7,277.7 681.6,278.5 686.6,285.1 691.5,287.5 696.4,289.7 705.4,281 711.1,285.9 720.2,289.2 725.9,292.1 731.5,291.8 736.4,292.6 741.3,295.1 745.4,295.6 750.3,287.7 755.2,289.8 760.2,275.4 765.9,268 770,244.3 774.1,254.1 779,254.6 784.8,252.8 789.7,270.5 795.4,258.2 799.5,244.3 804.4,236.1 809.3,248.4 814.3,249.2 819.2,253.3 824.1,257.9 831.5,249.2 836.4,238.5 843.8,217.2 849.5,220.5 853.6,234.4 858.5,237.4 863.4,232.8 868.4,226.2 873.3,232 878.2,235.7 883.1,236.4 888,232 893.8,230.8 898.7,241.8 902.8,248.4 907.7,244.6 912.6,248.4 917.4,260.3 922.3,261.1 927.2,264.4 933,277.5 937.9,271.8 942.8,264.9 947.7,265.7 952.6,260.8 957.5,263.6 962.5,267.7 967.4,261.1 972.3,256.7 977.2,261.1 982.1,263.6 987,277.5 992,251.3 996.9,258.7 1001.8,268.2 1006.7,259.5 1011.6,266.1 1016.6,259.5 1021.5,252.1 1026.4,264.4 1031.3,270.7 1036.2,273.9 1041.1,271.5 1046.1,274.6 1051,274.6 1055.1,289.8 1060,296.4 1064.9,304.6 1070.7,305.7 1075.6,322.6 1080.5,315.2 1085.4,315.6 1090.3,327 1095.2,317.7 1100.1,343 1105.1,329.5 1110,342.3 1116.3,336.9 1119.8,313.8 1125.5,304.4 1130,288.4 1134.8,263.2 1140.6,272.4 1146,284.8 1150,296.7 1153.6,245 1158.7,238.2 1163.8,226.9 1169.2,240.8 1173.9,130.7 1179,173.1 1183.9,144.8 1188.9,137.4 1193.8,123.4 1198.7,138.2 1203.6,112.5 1208.5,136.6 1214.6,132.1 1218.7,109.5 1223.6,130 1229.3,145.6 1233.4,160.3 1238.4,179.2 1243,158.7 1247.9,179.2 1253.1,168.5 1257.7,145.6 1262.1,91.1 1267,91.1 1272.5,88.2 1278.5,96.4 1283.4,103 1288.4,108.7 1292.5,128.4 1297,91.1 1302.3,96.4 1308,103 1312.1,107 1317.2,107.5 1321.8,162.8 1326.8,153.2 1331.9,165.6 1336.6,163.1 1341.4,176.2 1346.6,166.3 1351.7,172.4 1356.4,162.8 1361.2,176.5 1366,172.4 1370.8,171.7 1376.3,167.6 1381,163.1 1385.8,145.8 1391.3,148.9 1396.1,160.1 1400.8,182.7 1406.3,178.6 1411.8,174.5 1415.9,158.7 1420.7,138.3 1425.5,121.7 1430.2,129.4 1434.2,136.2 1436.5,136.6" fill="none" stroke="#16c784" stroke-width="3.7" stroke-linejoin="round" stroke-linecap="butt" clip-path="url(#cTop)"/>
<polyline points="16.2,245.9 19.6,234.9 22.4,233.5 27.2,230.1 35.3,222.5 40.6,228.2 44.9,227.2 48.2,229.2 53,236.3 59.7,243.5 67.4,242 73.1,238.2 78.8,239.2 83.8,229.2 89.1,217.7 94.8,214.4 99.1,204.3 104.7,197.2 109.6,210.6 113.9,203.4 119.2,214.9 124.5,207.7 128.8,208.2 134.5,213.9 139.3,230.2 144.1,218.7 158.4,247.4 163.9,267 173.8,247.4 179.5,254.8 183.6,254 192.6,277.7 198.4,294 203.3,288.4 208.2,265.4 218,290 223,285 227.9,285 233.6,280.2 242.6,272.8 248.4,275.2 252.5,275.2 257.4,285.9 262.3,281 267.2,285.9 272.1,298.2 282,297.4 286.9,314.6 291.8,312.1 297.5,316.2 302.5,322.8 307.4,322.8 312.3,313.8 317.2,311.3 321.3,345.7 326.2,335.1 331.1,341.6 336.1,351.5 341.5,344.5 346.2,311 350.7,317.9 355.6,320.3 360.5,312.1 366.2,296.6 371.1,298.2 376.1,303.9 380.2,292.5 385.1,312.1 390,299 395.7,297.4 399.8,284.3 405.6,281.8 410.5,283.4 415.4,287.5 419.5,269.5 425.2,267 429.3,283.4 435.1,278.5 440,288.4 444.9,290.8 449.8,291.6 454.8,290.8 459.7,301.5 464.6,294.1 469.5,295.7 474.4,302.3 484.3,285.9 489.2,289.2 494.1,290 499,294.1 503.9,300.7 508.9,301.5 513.8,308 518.7,308.9 523.6,302.3 533.4,302.3 538.3,320.3 543.1,317.9 548,319.5 553,308.9 558.7,308.9 563.6,308 567.7,300.7 573.4,297.4 577.5,289.2 582.5,289.2 587.4,276.9 592.3,280.2 597.2,294.1 602.1,295.7 607,291.6 612.8,285.6 617.7,284.3 622.6,286.7 626.7,294.1 631.6,303.9 636.6,305.6 641.5,299 646.4,297.4 651.3,295.4 657,295.7 662,293.3 666.1,285.1 671,281.8 676.7,277.7 681.6,278.5 686.6,285.1 691.5,287.5 696.4,289.7 705.4,281 711.1,285.9 720.2,289.2 725.9,292.1 731.5,291.8 736.4,292.6 741.3,295.1 745.4,295.6 750.3,287.7 755.2,289.8 760.2,275.4 765.9,268 770,244.3 774.1,254.1 779,254.6 784.8,252.8 789.7,270.5 795.4,258.2 799.5,244.3 804.4,236.1 809.3,248.4 814.3,249.2 819.2,253.3 824.1,257.9 831.5,249.2 836.4,238.5 843.8,217.2 849.5,220.5 853.6,234.4 858.5,237.4 863.4,232.8 868.4,226.2 873.3,232 878.2,235.7 883.1,236.4 888,232 893.8,230.8 898.7,241.8 902.8,248.4 907.7,244.6 912.6,248.4 917.4,260.3 922.3,261.1 927.2,264.4 933,277.5 937.9,271.8 942.8,264.9 947.7,265.7 952.6,260.8 957.5,263.6 962.5,267.7 967.4,261.1 972.3,256.7 977.2,261.1 982.1,263.6 987,277.5 992,251.3 996.9,258.7 1001.8,268.2 1006.7,259.5 1011.6,266.1 1016.6,259.5 1021.5,252.1 1026.4,264.4 1031.3,270.7 1036.2,273.9 1041.1,271.5 1046.1,274.6 1051,274.6 1055.1,289.8 1060,296.4 1064.9,304.6 1070.7,305.7 1075.6,322.6 1080.5,315.2 1085.4,315.6 1090.3,327 1095.2,317.7 1100.1,343 1105.1,329.5 1110,342.3 1116.3,336.9 1119.8,313.8 1125.5,304.4 1130,288.4 1134.8,263.2 1140.6,272.4 1146,284.8 1150,296.7 1153.6,245 1158.7,238.2 1163.8,226.9 1169.2,240.8 1173.9,130.7 1179,173.1 1183.9,144.8 1188.9,137.4 1193.8,123.4 1198.7,138.2 1203.6,112.5 1208.5,136.6 1214.6,132.1 1218.7,109.5 1223.6,130 1229.3,145.6 1233.4,160.3 1238.4,179.2 1243,158.7 1247.9,179.2 1253.1,168.5 1257.7,145.6 1262.1,91.1 1267,91.1 1272.5,88.2 1278.5,96.4 1283.4,103 1288.4,108.7 1292.5,128.4 1297,91.1 1302.3,96.4 1308,103 1312.1,107 1317.2,107.5 1321.8,162.8 1326.8,153.2 1331.9,165.6 1336.6,163.1 1341.4,176.2 1346.6,166.3 1351.7,172.4 1356.4,162.8 1361.2,176.5 1366,172.4 1370.8,171.7 1376.3,167.6 1381,163.1 1385.8,145.8 1391.3,148.9 1396.1,160.1 1400.8,182.7 1406.3,178.6 1411.8,174.5 1415.9,158.7 1420.7,138.3 1425.5,121.7 1430.2,129.4 1434.2,136.2 1436.5,136.6" fill="none" stroke="#ea3943" stroke-width="3.7" stroke-linejoin="round" stroke-linecap="butt" clip-path="url(#cBot)"/>

<!-- baseline label -->
<rect x="16" y="230" width="90" height="44" rx="7" fill="#fff" fill-opacity="0.88"/>
<text x="28.5" y="259.6" font-size="23" fill="#58667e" letter-spacing="-0.6">71.30K</text>

<!-- watermark -->
<g fill="none" stroke="#cfd6e4" stroke-width="4.2" stroke-linecap="round" stroke-linejoin="round">
  <path d="M1133.8,407.8 L1144.3,391.2 Q1146.6,387.6 1147.4,392.3 L1147.9,401.3 Q1148.6,405.6 1151,401.8 L1157.4,392.2 Q1159.9,388.3 1161.1,393 L1162.3,400.4 Q1163.6,405.4 1167.3,404.2 Q1170.6,402.6 1170.6,397.9 A21.3,21.3 0 1 0 1164.3,413"/>
  <path d="M1205.5,391.8 A8.9,8.9 0 1 0 1205.5,406.4"/>
  <circle cx="1217.6" cy="402.2" r="5.8"/>
  <path d="M1229.9,396.6 V408"/>
  <path d="M1238.1,396.6 V408 M1238.1,401.6 A5,5 0 0 1 1248.1,401.6 V408"/>
  <path d="M1256,408 V390.2 L1264,400.8 L1272.3,390.2 V408"/>
  <circle cx="1284.7" cy="402.2" r="5.6"/><path d="M1290.5,396.6 V408"/>
  <path d="M1298.6,408 V396.6 M1298.6,402 Q1299.3,396.4 1304.3,396.4"/>
  <path d="M1310.2,389.9 V408 M1319.2,396.5 L1312.4,403 M1315.4,400.6 L1319.5,408"/>
  <path d="M1323.8,402.2 H1335.4 A5.8,5.8 0 1 0 1333.6,406.5"/>
  <path d="M1342.9,389.9 V404.4 Q1342.9,408.1 1347,408.1 M1339.3,396.4 H1347"/>
  <path d="M1367.1,391.8 A8.9,8.9 0 1 0 1367.1,406.4"/>
  <circle cx="1378.5" cy="402.2" r="5.6"/><path d="M1384.4,396.6 V408"/>
  <circle cx="1398.6" cy="402.2" r="5.6"/><path d="M1392.9,396.6 V414.8"/>
</g>
<circle cx="1229.9" cy="390.4" r="2.5" fill="#cfd6e4"/>
<!-- y axis labels -->
<g font-size="23" fill="#808a9d">
  <text x="1448.5" y="95.6">72.50K</text>
  <text x="1448.5" y="230.2" letter-spacing="-0.6">71.50K</text>
  <text x="1448.5" y="296.5" letter-spacing="-0.6">71.00K</text>
  <text x="1448.5" y="364.2">70.50K</text>
  <text x="1448.5" y="429.8">70.00K</text>
</g>
<!-- price tag -->
<rect x="1436.2" y="109.8" width="101.8" height="52" rx="5" fill="#16c784"/>
<text x="1448.5" y="144" font-size="23" fill="#fff" letter-spacing="-0.8">72.13K</text>

<!-- x axis labels -->
<g font-size="23" fill="#808a9d" text-anchor="middle">
  <text x="75" y="533.5">9:00 PM</text>
  <text x="252.5" y="533.5">9 Apr</text>
  <text x="429.6" y="533.5" letter-spacing="0.5">3:00 AM</text>
  <text x="607.1" y="533.5" letter-spacing="0.5">6:00 AM</text>
  <text x="784.9" y="533.5" letter-spacing="0.5">9:00 AM</text>
  <text x="961.8" y="533.5">12:00 PM</text>
  <text x="1139.6" y="533.5">3:00 PM</text>
  <text x="1317.2" y="533.5">6:00 PM</text>
</g>

<!-- history badge -->
<path d="M44,552 H94 A24,24 0 0 1 94,600 H44 C36,600 31,595 27,588 L16,576 L27,564 C31,557 36,552 44,552 Z" fill="#a6b0c3"/>
<g fill="none" stroke="#fff" stroke-width="2.3" stroke-linecap="round" stroke-linejoin="round">
  <path d="M39.2,570.6 A9.9,9.9 0 1 1 40.5,581.7"/>
  <path d="M47.9,568.6 V575.2 L53.1,578.2"/>
</g>
<path d="M35.5,570.6 L41.7,571.2 L38,576 Z" fill="#fff" stroke="#fff" stroke-width="1.3" stroke-linejoin="round"/>
<text x="68.2" y="585" font-size="23" fill="#fff" letter-spacing="-0.4">145</text>

<!-- analyze button -->
<path d="M1342,552 L1350,544 L1358,552 Z" fill="#3861fb"/>
<rect x="1264" y="552" width="172" height="48" rx="24" fill="#3861fb"/>
<g fill="none" stroke="#fff" stroke-width="2.5" stroke-linecap="round" stroke-linejoin="round">
  <path d="M1284.8,578.5 L1289,572 Q1290.3,569.8 1290.8,572.5 L1291.2,578 Q1291.6,580.2 1293,578 L1296.5,572.5 Q1297.8,570.5 1298.3,573 L1298.8,576.8 Q1299.5,579.6 1301.5,579 Q1304.2,578 1304.2,575.8 A12,12 0 1 0 1281.3,581.1 L1280.3,587.8 L1285.8,586.6 A12,12 0 0 0 1300.6,584.6"/>
  <path d="M1405.8,568.6 L1413.6,576 L1405.8,583.4"/>
</g>
<text x="1312.5" y="584" font-size="23" fill="#fff" stroke="#fff" stroke-width="0.5">Analyze</text>

<!-- navigator -->
<g fill="#f3f4f6">
  <rect x="16" y="604" width="1421" height="1.6"/>
  <rect x="16" y="684.5" width="1421" height="1.6"/>
  <rect x="146.2" y="605" width="1.6" height="80"/>
  <rect x="328.2" y="605" width="1.6" height="80"/>
  <rect x="508.2" y="605" width="1.6" height="80"/>
  <rect x="688.2" y="605" width="1.6" height="80"/>
  <rect x="868.2" y="605" width="1.6" height="80"/>
  <rect x="1048.2" y="605" width="1.6" height="80"/>
  <rect x="1230.2" y="605" width="1.6" height="80"/>
  <rect x="1410.2" y="605" width="1.6" height="80"/>
  <rect x="1434.4" y="605" width="1.6" height="80"/>
</g>
<path d="M16,685 L16,684.6 L300,684.6 L560,684.3 L611,684 L636.6,683.6 L640,683.5 L648.2,683.5 L656.3,682.7 L666.6,682.1 L674.7,681.1 L680.9,679 L683.9,675.4 L686.6,673.9 L689,676.6 L692.1,676.6 L695.2,678.6 L699.3,680.1 L702.3,678.6 L706.4,678.6 L710.5,680.1 L717.6,679.7 L725.8,680.7 L741.1,680.3 L746.3,681.1 L768.7,681.5 L772.8,682.7 L801.4,682.7 L811.6,680.7 L819.8,679.4 L826,678.6 L834.1,678.6 L844.3,679.4 L856.6,680.1 L867.8,681.1 L881.1,679.4 L887.2,680.7 L890.3,681.5 L899.5,680.1 L905.6,679.4 L920,679 L926.1,678.4 L940.4,678.6 L946.6,676.7 L950.6,673.9 L955.7,673.3 L960,668.8 L961.6,665.6 L964.9,663.9 L967.4,665.6 L969.9,658.1 L973.2,654 L975.7,655.6 L979,652.8 L982.3,651.8 L985.7,649.8 L989,652.8 L992.3,652.3 L994.8,659.8 L997.3,663.1 L999.8,663.9 L1001.4,662.3 L1003.9,665.6 L1008.9,666.1 L1012.2,662.8 L1014.7,658.4 L1018,656.5 L1022.2,654.8 L1025.5,659.8 L1030.5,650.6 L1033.8,648.5 L1038,645.7 L1041.3,651.5 L1046.3,657.3 L1050.4,656.5 L1054.6,660.6 L1057.9,662.8 L1060.4,659.8 L1064.5,661.4 L1067.8,661.8 L1072,658.1 L1076.1,661.4 L1081.1,662.3 L1083.6,667.2 L1088.6,666.7 L1091.9,672.2 L1097.7,672.7 L1105.2,671.4 L1109.4,673.1 L1113.5,672.2 L1117.7,673.4 L1126,673.1 L1130.1,675.5 L1134.3,675.5 L1141.7,675.2 L1145.9,672.2 L1151.7,671.9 L1154.2,671.1 L1157.5,671.7 L1160.8,668.9 L1165.8,668.1 L1172.4,668.9 L1179.1,669.7 L1184,667.2 L1189,667.7 L1196.6,668.1 L1199.1,669.7 L1203.3,670.1 L1210.8,668.9 L1214.1,665.6 L1219.9,663.1 L1223.2,661.8 L1225.7,660.6 L1229.8,658.9 L1232.8,657.8 L1236.5,661.1 L1239.8,658.9 L1241.5,656.5 L1244,654 L1246.5,644.8 L1248.9,643.2 L1251.4,644.5 L1255.6,643.5 L1258.1,646.8 L1261.4,647.8 L1263.1,648.1 L1266,644 L1271.4,644.8 L1274.7,648.6 L1277.2,649.5 L1280.5,645.7 L1283,646.5 L1285.5,650.6 L1289.6,649 L1293.8,651.8 L1297.1,648.1 L1301.2,648.1 L1304.6,645.7 L1307,644.5 L1308.2,634 L1312.9,630.7 L1315.4,628.2 L1317.5,623.6 L1319.5,625.7 L1321.2,629.9 L1322.8,626.2 L1325.3,627.9 L1327.8,625.7 L1331.1,626.6 L1334.4,629.9 L1338.3,636.9 L1341.1,634 L1345.2,637.4 L1350.2,630.7 L1353.5,624.9 L1356.9,621.6 L1361,621.6 L1364.3,623.2 L1367.7,620.8 L1369.3,615.8 L1372.6,616.6 L1376.8,616.3 L1380.9,621.3 L1385.1,617.9 L1387.6,619.1 L1390.1,612.5 L1392.6,617.9 L1395.9,619.1 L1399.2,624.9 L1402.5,633.2 L1405.8,632.4 L1409.2,634 L1412.5,630.7 L1417.5,631.9 L1420,634.9 L1435,635 L1435,685 Z" fill="#eff2f5"/>
<g font-size="23" fill="#808a9d" text-anchor="middle">
  <text x="149" y="717.8" letter-spacing="-0.5">2012</text>
  <text x="329" y="717.8" letter-spacing="-0.5">2014</text>
  <text x="509" y="717.8" letter-spacing="-0.5">2016</text>
  <text x="689" y="717.8" letter-spacing="-0.5">2018</text>
  <text x="869" y="717.8">2020</text>
  <text x="1049" y="717.8">2022</text>
  <text x="1231" y="717.8">2024</text>
  <text x="1411" y="717.8">2026</text>
</g>
<defs>
  <filter id="sh" x="-100%" y="-100%" width="300%" height="300%"><feGaussianBlur stdDeviation="5"/></filter>
  <filter id="sh2" x="-100%" y="-100%" width="300%" height="300%"><feGaussianBlur stdDeviation="6"/></filter>
</defs>
<circle cx="1434" cy="644" r="30" fill="#58667e" fill-opacity="0.035" filter="url(#sh2)"/>
<rect x="1418" y="627" width="32" height="40" rx="16" fill="#000" fill-opacity="0.09" filter="url(#sh)"/>
<rect x="1420" y="624.6" width="28" height="38.6" rx="14" fill="#fff"/>
<rect x="1430" y="637" width="2" height="14" fill="#9ca6b8"/>
<rect x="1436" y="637" width="2" height="14" fill="#9ca6b8"/>
</svg>
</body></html>
